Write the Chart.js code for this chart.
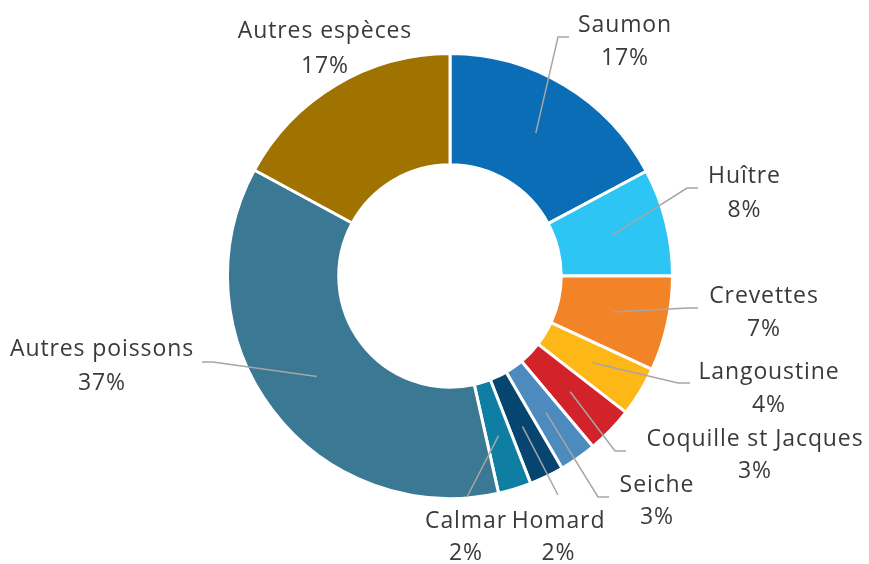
<!DOCTYPE html>
<html>
<head>
<meta charset="utf-8">
<script src="https://cdn.jsdelivr.net/npm/chart.js@4"></script>
<style>
  html, body { margin: 0; padding: 0; background: #ffffff; }
  #wrap { width: 869px; height: 564px; position: relative; }
</style>
</head>
<body>
<div id="wrap"><canvas id="c" width="869" height="564"></canvas></div>
<script>
// ---- data ----
const categories = ["Saumon", "Huître", "Crevettes", "Langoustine", "Coquille st Jacques", "Seiche", "Homard", "Calmar", "Autres poissons", "Autres espèces"];
const shares = [17.2, 7.8, 6.9, 3.6, 3.4, 2.7, 2.5, 2.4, 36.4, 17.1];
const shareLabels = ["17%", "8%", "7%", "4%", "3%", "3%", "2%", "2%", "37%", "17%"];
const colors = ["#0a6db6", "#2dc5f4", "#f28326", "#fdb717", "#d2232a", "#4d8bbf", "#064570", "#0e7ea2", "#3b7894", "#a07300"];

// ---- label layout (offsets from the doughnut centre, px) ----
// t: text centre x, b1/b2: baselines of the two lines; e: elbow point; f: end of horizontal tick (optional)
const labelLayout = [
  { t: [175, -244, -211], e: [108, -239], f: [119, -239] },
  { t: [294.5, -93, -59], e: [237, -88], f: [248, -88] },
  { t: [314, 27, 60], e: [238, 32], f: [248, 32] },
  { t: [319, 103, 136], e: [228, 107], f: [240, 107] },
  { t: [305, 170, 202], e: [165, 175], f: [176, 175] },
  { t: [207, 216, 248], e: [148, 221], f: [159, 221] },
  { t: [108.5, 252, 284], e: [108, 219], f: null },
  { t: [16, 252, 284], e: [17, 221], f: null },
  { t: [-348, 80, 114], e: [-237, 86], f: [-248, 86] },
  { t: [-125, -238, -203], e: null, f: null }
];

const labelPlugin = {
  id: 'outLabels',
  afterDatasetsDraw(chart) {
    const ctx = chart.ctx;
    const meta = chart.getDatasetMeta(0);
    ctx.save();
    meta.data.forEach((arc, i) => {
      const p = arc.getProps(['x', 'y', 'startAngle', 'endAngle', 'innerRadius', 'outerRadius'], true);
      const cx = p.x, cy = p.y;
      const L = labelLayout[i];
      if (L.e) {
        const mid = (p.startAngle + p.endAngle) / 2;
        const r = (p.innerRadius + p.outerRadius) / 2;
        const sx = cx + Math.cos(mid) * r;
        const sy = cy + Math.sin(mid) * r;
        ctx.beginPath();
        ctx.strokeStyle = '#a6a6a6';
        ctx.lineWidth = 1.5;
        ctx.moveTo(sx, sy);
        ctx.lineTo(cx + L.e[0], cy + L.e[1]);
        if (L.f) ctx.lineTo(cx + L.f[0], cy + L.f[1]);
        ctx.stroke();
      }
      ctx.fillStyle = '#3a3a3a';
      ctx.font = '400 23px "Open Sans", sans-serif';
      try { ctx.letterSpacing = '0.9px'; } catch (e) {}
      ctx.textAlign = 'center';
      ctx.textBaseline = 'alphabetic';
      ctx.fillText(chart.data.labels[i], cx + L.t[0], cy + L.t[1]);
      ctx.fillText(shareLabels[i], cx + L.t[0], cy + L.t[2]);
    });
    ctx.restore();
  }
};

new Chart(document.getElementById('c'), {
  type: 'doughnut',
  data: {
    labels: categories,
    datasets: [{
      data: shares,
      backgroundColor: colors,
      borderColor: '#ffffff',
      borderWidth: 3,
      hoverOffset: 0
    }]
  },
  options: {
    responsive: false,
    animation: false,
    cutout: '50%',
    layout: { padding: { top: 52, bottom: 64, left: 31, right: 0 } },
    plugins: {
      legend: { display: false },
      tooltip: { enabled: false }
    }
  },
  plugins: [labelPlugin]
});
</script>
</body>
</html>
